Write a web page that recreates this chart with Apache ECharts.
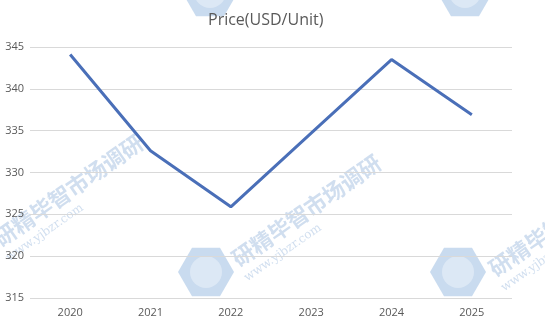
<!DOCTYPE html>
<html><head><meta charset="utf-8">
<script src="https://cdn.jsdelivr.net/npm/echarts@6/dist/echarts.min.js"></script>
<style>html,body{margin:0;padding:0;background:#fff}#c{width:545px;height:324px}</style>
</head><body><div id="c"></div>
<script>
var categories = ['2020','2021','2022','2023','2024','2025'];
var prices = [344.1, 332.6, 325.9, 334.7, 343.5, 336.9];
var yTicks = {min: 315, max: 345, interval: 5};

var chart = echarts.init(document.getElementById('c'));
function hex(cx, cy, r) {
  var pts = [];
  for (var i = 0; i < 6; i++) {
    var a = Math.PI / 3 * i;
    pts.push([cx + r * Math.cos(a), cy + r * Math.sin(a)]);
  }
  return pts;
}
function logo(cx, cy) {
  return [
    {type:'polygon', shape:{points:hex(cx,cy,28)}, style:{fill:'rgba(120,165,215,0.4)'}, z:-1, silent:true},
    {type:'circle', shape:{cx:cx,cy:cy,r:16}, style:{fill:'rgba(255,255,255,0.35)'}, z:-1, silent:true}
  ];
}
function wm(x, y) {
  return [
    {type:'text', x:x, y:y, rotation:Math.PI*35/180, style:{text:'研精毕智市场调研', font:'bold 22px "Noto Sans CJK SC"', fill:'rgba(120,160,210,0.35)'}, z:-1, silent:true},
    {type:'text', x:x+14, y:y+22, rotation:Math.PI*35/180, style:{text:'www.yjbzr.com', font:'12px "DejaVu Serif"', fill:'rgba(120,160,210,0.35)'}, z:-1, silent:true}
  ];
}
var g = [].concat(logo(206,272), logo(458,272), logo(210,-8), logo(465,-8), wm(-10,232), wm(228,252), wm(485,262));
chart.setOption({
  animation: false,
  title: {text: 'Price(USD/Unit)', left: 203, top: 7, textStyle: {color: '#595959', fontSize: 16, fontWeight: 'normal', fontFamily: 'Open Sans'}},
  grid: {left: 30, right: 33, top: 47, bottom: 26, containLabel: false},
  xAxis: {type: 'category', data: categories, boundaryGap: true,
    axisLine: {show: false}, axisTick: {show: false},
    axisLabel: {color: '#595959', fontSize: 11, margin: 9, fontFamily: 'Open Sans'}},
  yAxis: {type: 'value', min: yTicks.min, max: yTicks.max, interval: yTicks.interval,
    axisLine: {show: false}, axisTick: {show: false},
    axisLabel: {color: '#595959', fontSize: 11, margin: 6, fontFamily: 'Open Sans'},
    splitLine: {lineStyle: {color: '#d9d9d9', width: 1}}},
  graphic: g,
  series: [{type: 'line', data: prices, symbol: 'none', lineStyle: {color: '#4a6fb8', width: 3}, z: 5}]
});
</script></body></html>
